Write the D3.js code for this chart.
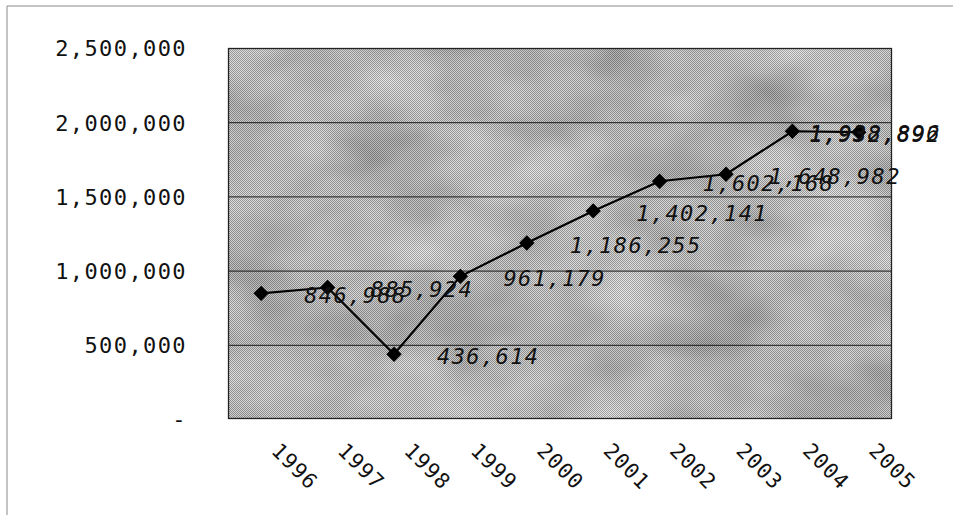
<!DOCTYPE html>
<html>
<head>
<meta charset="utf-8">
<script src="https://cdn.jsdelivr.net/npm/d3@7"></script>
<style>
  html, body { margin: 0; padding: 0; background: #fff; }
  svg { display: block; }
</style>
</head>
<body>
<svg id="chart" width="953" height="515"></svg>
<script>
// Yearly totals, 1996–2005
const years = ["1996", "1997", "1998", "1999", "2000", "2001", "2002", "2003", "2004", "2005"];
const values = [846988, 885924, 436614, 961179, 1186255, 1402141, 1602168, 1648982, 1938896, 1932892];
const yTicks = [0, 500000, 1000000, 1500000, 2000000, 2500000];
const yTickLabels = ["-", "500,000", "1,000,000", "1,500,000", "2,000,000", "2,500,000"];

const W = 953, H = 515;
const plot = { left: 228, right: 892, top: 48, bottom: 419 };
const chartRight = 941;
const font = "'DejaVu Sans Mono', 'Liberation Mono', monospace";

const svg = d3.select("#chart");
const defs = svg.append("defs");

// mottled grey texture for the plot area
const filt = defs.append("filter").attr("id", "mottle")
  .attr("x", 0).attr("y", 0).attr("width", 1).attr("height", 1);
filt.append("feTurbulence").attr("type", "fractalNoise")
  .attr("baseFrequency", "0.009 0.014").attr("numOctaves", 3).attr("seed", 7);
filt.append("feColorMatrix").attr("type", "matrix")
  .attr("values", "1.0 0 0 0 0.2  1.0 0 0 0 0.2  1.0 0 0 0 0.2  0 0 0 0 1");

// fine halftone dots
const pat = defs.append("pattern").attr("id", "dots")
  .attr("width", 2).attr("height", 2).attr("patternUnits", "userSpaceOnUse");
pat.append("rect").attr("x", 0).attr("y", 0).attr("width", 1).attr("height", 1).attr("fill", "#000").attr("opacity", 0.28);
pat.append("rect").attr("x", 1).attr("y", 1).attr("width", 1).attr("height", 1).attr("fill", "#000").attr("opacity", 0.28);
pat.append("rect").attr("x", 1).attr("y", 0).attr("width", 1).attr("height", 1).attr("fill", "#fff").attr("opacity", 0.22);
pat.append("rect").attr("x", 0).attr("y", 1).attr("width", 1).attr("height", 1).attr("fill", "#fff").attr("opacity", 0.22);

// chart-area frame (top and left edges)
svg.append("line").attr("x1", 7).attr("x2", W).attr("y1", 6).attr("y2", 6)
  .attr("stroke", "#8a8a8a").attr("stroke-width", 1);
svg.append("line").attr("x1", 7).attr("x2", 7).attr("y1", 6).attr("y2", H)
  .attr("stroke", "#8a8a8a").attr("stroke-width", 1);

const x = d3.scaleBand().domain(years).range([plot.left, plot.right]).paddingInner(0).paddingOuter(0);
const y = d3.scaleLinear().domain([0, 2500000]).range([plot.bottom, plot.top]);

// plot background
const pw = plot.right - plot.left, ph = plot.bottom - plot.top;
svg.append("rect").attr("x", plot.left).attr("y", plot.top).attr("width", pw).attr("height", ph)
  .attr("fill", "#b0b0b0").attr("filter", "url(#mottle)");
svg.append("rect").attr("x", plot.left).attr("y", plot.top).attr("width", pw).attr("height", ph)
  .attr("fill", "#888").attr("opacity", 0.25);
svg.append("rect").attr("x", plot.left).attr("y", plot.top).attr("width", pw).attr("height", ph)
  .attr("fill", "url(#dots)");

// horizontal gridlines
svg.append("g").selectAll("line").data(yTicks.slice(1, -1)).join("line")
  .attr("x1", plot.left).attr("x2", plot.right)
  .attr("y1", d => y(d) + 0.5).attr("y2", d => y(d) + 0.5)
  .attr("stroke", "#1a1a1a").attr("stroke-width", 1);

// plot border
svg.append("rect").attr("x", plot.left + 0.5).attr("y", plot.top + 0.5)
  .attr("width", pw - 1).attr("height", ph - 1)
  .attr("fill", "none").attr("stroke", "#222").attr("stroke-width", 1.3);

// y axis
const yAxis = svg.append("g").attr("transform", `translate(${plot.left},0)`)
  .call(d3.axisLeft(y).tickValues(yTicks).tickSize(0).tickPadding(41)
    .tickFormat((d, i) => yTickLabels[i]));
yAxis.select(".domain").remove();
yAxis.selectAll("text").attr("font-family", font).attr("font-size", 22)
  .attr("letter-spacing", 1.4).attr("fill", "#111").attr("dy", "0.36em");

// x axis labels, rotated
const xAxis = svg.append("g").attr("transform", `translate(0,${plot.bottom})`)
  .call(d3.axisBottom(x).tickSize(0).tickPadding(0));
xAxis.select(".domain").remove();
xAxis.selectAll(".tick text")
  .attr("font-family", font).attr("font-size", 21).attr("letter-spacing", 1.2)
  .attr("fill", "#111").attr("text-anchor", "start").attr("dy", null).attr("y", 0)
  .attr("transform", "translate(9,33) rotate(45)");

// series line
const cx = d => x(d) + x.bandwidth() / 2;
svg.append("path").datum(values)
  .attr("fill", "none").attr("stroke", "#000").attr("stroke-width", 2.2)
  .attr("d", d3.line().x((d, i) => cx(years[i])).y(d => y(d)));

// diamond markers
svg.append("g").selectAll("path").data(values).join("path")
  .attr("d", d3.symbol(d3.symbolSquare, 118))
  .attr("transform", (d, i) => `translate(${cx(years[i])},${y(d)}) rotate(45)`)
  .attr("fill", "#000");

// value labels, kept inside the chart area
const fmt = d3.format(",");
const labels = svg.append("g").selectAll("text").data(values).join("text")
  .attr("font-family", font).attr("font-style", "italic").attr("font-size", 22)
  .attr("letter-spacing", 1.4).attr("fill", "#111")
  .attr("dy", "0.36em")
  .attr("y", d => y(d) + 2)
  .text(d => fmt(d));
labels.each(function (d, i) {
  const w = this.getComputedTextLength();
  let lx = cx(years[i]) + 43;
  if (lx + w > chartRight) lx = chartRight - w;
  d3.select(this).attr("x", lx);
});
</script>
</body>
</html>
